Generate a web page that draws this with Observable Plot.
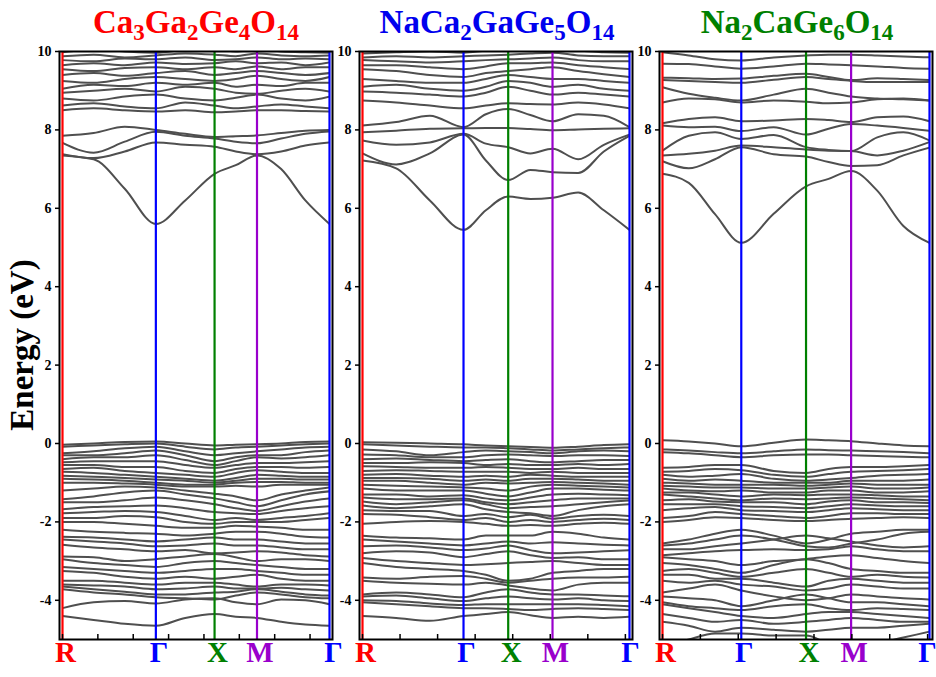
<!DOCTYPE html>
<html><head><meta charset="utf-8">
<script src="https://cdn.jsdelivr.net/npm/d3@7"></script>
<script src="https://cdn.jsdelivr.net/npm/@observablehq/plot@0.6"></script>
<style>
html,body{margin:0;padding:0;background:#fff;}
#wrap{position:relative;width:936px;height:677px;overflow:hidden;font-family:"Liberation Serif","Times New Roman",serif;}
#wrap svg{position:absolute;top:0;}
.title{position:absolute;top:4px;font-weight:bold;font-size:33px;line-height:36px;white-space:nowrap;transform:translateX(-50%);}
.title sub{font-size:23px;vertical-align:-7px;line-height:0;}
.ylab{position:absolute;left:22px;top:345px;font-weight:bold;font-size:33px;white-space:nowrap;transform:translate(-50%,-50%) rotate(-90deg);}
</style></head>
<body><div id="wrap"></div>
<script>
// ---- data ----
const kLabels = ["R", "Γ", "X", "M", "Γ"];
const compounds = [
  ["Ca", "3", "Ga", "2", "Ge", "4", "O", "14"],
  ["NaCa", "2", "GaGe", "5", "O", "14"],
  ["Na", "2", "CaGe", "6", "O", "14"]
];
// high-symmetry k positions (path length units) for each panel
const kPos1 = [0, 0.264, 0.430, 0.550, 0.755];
const kPos2 = [0, 0.269, 0.388, 0.506, 0.711];
const kPos3 = [0, 0.208, 0.379, 0.498, 0.705];
const yTicks = [-4, -2, 0, 2, 4, 6, 8, 10];
const kTickStep = 0.1;

// band energies (eV) sampled at: R, R–Γ 1/3, R–Γ 2/3, Γ, Γ–X mid, X, X–M mid, M, M–Γ 1/3, M–Γ 2/3, Γ
const cond1 = [
  [7.35, 7.25, 6.5, 5.6, 6.2, 6.88, 7.1, 7.35, 7.0, 6.2, 5.6],
  [7.38, 7.28, 7.45, 7.68, 7.62, 7.57, 7.45, 7.38, 7.45, 7.6, 7.68],
  [7.67, 7.42, 7.7, 7.95, 7.85, 7.78, 7.7, 7.66, 7.78, 7.9, 7.96],
  [7.85, 7.92, 8.08, 8.0, 7.9, 7.82, 7.84, 7.86, 7.92, 7.98, 8.0],
  [8.5, 8.55, 8.5, 8.47, 8.5, 8.45, 8.47, 8.5, 8.5, 8.48, 8.47],
  [8.62, 8.68, 8.6, 8.55, 8.7, 8.62, 8.55, 8.6, 8.65, 8.6, 8.55],
  [8.8, 8.75, 8.85, 8.9, 8.8, 8.75, 8.82, 8.9, 8.8, 8.75, 8.85],
  [8.95, 9.0, 9.05, 8.98, 9.1, 9.05, 8.95, 8.92, 9.0, 9.05, 8.98],
  [9.05, 9.15, 9.12, 9.2, 9.15, 9.2, 9.1, 9.15, 9.12, 9.2, 9.2],
  [9.25, 9.2, 9.3, 9.35, 9.3, 9.25, 9.3, 9.38, 9.3, 9.25, 9.35],
  [9.4, 9.45, 9.38, 9.45, 9.5, 9.4, 9.45, 9.5, 9.45, 9.4, 9.45],
  [9.55, 9.5, 9.58, 9.6, 9.55, 9.6, 9.55, 9.62, 9.55, 9.6, 9.6],
  [9.65, 9.7, 9.65, 9.72, 9.68, 9.7, 9.75, 9.7, 9.72, 9.65, 9.72],
  [9.78, 9.75, 9.82, 9.8, 9.85, 9.78, 9.8, 9.85, 9.8, 9.82, 9.8],
  [9.88, 9.92, 9.85, 9.9, 9.95, 9.92, 9.88, 9.95, 9.9, 9.88, 9.9],
  [9.98, 10.05, 10.0, 9.97, 10.05, 10.1, 10.0, 10.05, 10.0, 9.98, 9.97]
];
const val1 = [
  [-0.03, 0.0, 0.04, 0.05, 0.0, -0.05, -0.03, -0.02, 0.0, 0.04, 0.05],
  [-0.08, -0.05, -0.02, 0.0, -0.08, -0.15, -0.1, -0.08, -0.05, -0.02, 0.0],
  [-0.25, -0.2, -0.12, -0.08, -0.2, -0.3, -0.25, -0.2, -0.15, -0.1, -0.08],
  [-0.3, -0.3, -0.25, -0.18, -0.3, -0.45, -0.35, -0.3, -0.3, -0.22, -0.18],
  [-0.4, -0.35, -0.35, -0.3, -0.42, -0.55, -0.45, -0.35, -0.38, -0.35, -0.3],
  [-0.48, -0.45, -0.45, -0.45, -0.55, -0.62, -0.55, -0.5, -0.5, -0.48, -0.45],
  [-0.55, -0.55, -0.6, -0.6, -0.7, -0.75, -0.65, -0.6, -0.6, -0.62, -0.6],
  [-0.65, -0.62, -0.7, -0.75, -0.8, -0.85, -0.75, -0.68, -0.72, -0.75, -0.75],
  [-0.72, -0.75, -0.8, -0.85, -0.9, -0.95, -0.88, -0.8, -0.82, -0.85, -0.85],
  [-0.82, -0.85, -0.88, -0.92, -0.95, -1.0, -0.95, -0.9, -0.9, -0.92, -0.92],
  [-0.9, -0.92, -0.95, -1.0, -1.05, -1.05, -1.0, -0.98, -0.98, -1.0, -1.0],
  [-1.0, -1.0, -1.02, -1.05, -1.1, -1.1, -1.08, -1.1, -1.05, -1.05, -1.05],
  [-1.2, -1.15, -1.1, -1.12, -1.2, -1.28, -1.35, -1.45, -1.3, -1.2, -1.12],
  [-1.42, -1.35, -1.25, -1.2, -1.3, -1.4, -1.5, -1.6, -1.45, -1.3, -1.22],
  [-1.5, -1.5, -1.45, -1.38, -1.45, -1.55, -1.65, -1.72, -1.6, -1.48, -1.4],
  [-1.68, -1.62, -1.6, -1.58, -1.65, -1.75, -1.78, -1.8, -1.72, -1.65, -1.6],
  [-1.78, -1.75, -1.72, -1.75, -1.85, -1.95, -1.9, -1.95, -1.9, -1.85, -1.78],
  [-1.9, -1.9, -1.85, -1.88, -2.0, -2.05, -2.0, -2.0, -2.0, -1.95, -1.9],
  [-2.0, -2.0, -2.05, -2.1, -2.15, -2.15, -2.1, -2.12, -2.15, -2.2, -2.2],
  [-2.2, -2.25, -2.28, -2.3, -2.35, -2.3, -2.25, -2.25, -2.3, -2.38, -2.4],
  [-2.38, -2.4, -2.45, -2.5, -2.45, -2.4, -2.45, -2.45, -2.5, -2.55, -2.55],
  [-2.45, -2.5, -2.55, -2.62, -2.6, -2.55, -2.6, -2.6, -2.65, -2.7, -2.7],
  [-2.58, -2.65, -2.7, -2.75, -2.72, -2.8, -2.78, -2.75, -2.78, -2.85, -2.88],
  [-2.88, -2.9, -3.0, -2.95, -2.88, -2.82, -2.9, -3.0, -2.95, -2.95, -3.0],
  [-2.95, -3.05, -3.1, -3.15, -3.05, -3.0, -3.05, -3.1, -3.15, -3.2, -3.2],
  [-3.15, -3.2, -3.25, -3.3, -3.25, -3.2, -3.2, -3.25, -3.3, -3.35, -3.35],
  [-3.25, -3.3, -3.4, -3.45, -3.4, -3.45, -3.4, -3.35, -3.45, -3.5, -3.5],
  [-3.5, -3.5, -3.55, -3.6, -3.55, -3.55, -3.6, -3.65, -3.6, -3.6, -3.62],
  [-3.6, -3.62, -3.65, -3.72, -3.7, -3.65, -3.7, -3.7, -3.68, -3.72, -3.75],
  [-3.65, -3.72, -3.78, -3.85, -3.85, -3.8, -3.78, -3.72, -3.78, -3.85, -3.88],
  [-3.72, -3.8, -3.85, -3.92, -3.95, -3.98, -3.88, -3.8, -3.85, -3.92, -3.95],
  [-4.2, -4.05, -4.02, -4.08, -3.98, -3.95, -4.05, -4.1, -3.98, -4.0, -4.1],
  [-4.4, -4.5, -4.6, -4.65, -4.45, -4.35, -4.42, -4.45, -4.55, -4.62, -4.65]
];
const cond2 = [
  [7.22, 7.02, 6.2, 5.45, 5.95, 6.3, 6.24, 6.27, 6.4, 5.95, 5.45],
  [7.4, 7.12, 7.4, 7.88, 7.22, 6.72, 6.98, 6.92, 6.9, 7.45, 7.85],
  [7.73, 7.62, 7.68, 7.9, 7.65, 7.56, 7.4, 7.52, 7.25, 7.62, 7.88],
  [7.94, 7.98, 8.03, 8.04, 8.05, 8.05, 8.02, 7.99, 8.01, 8.03, 8.04],
  [8.11, 8.2, 8.36, 8.07, 8.4, 8.53, 8.38, 8.22, 8.4, 8.36, 8.07],
  [8.75, 8.7, 8.62, 8.55, 8.62, 8.68, 8.66, 8.65, 8.7, 8.65, 8.55],
  [8.98, 8.95, 8.9, 8.85, 8.95, 9.1, 9.0, 8.9, 8.95, 8.9, 8.85],
  [9.1, 9.15, 9.05, 9.0, 9.1, 9.25, 9.2, 9.1, 9.15, 9.05, 9.0],
  [9.3, 9.25, 9.2, 9.2, 9.3, 9.4, 9.35, 9.3, 9.3, 9.25, 9.2],
  [9.55, 9.5, 9.4, 9.35, 9.45, 9.5, 9.55, 9.6, 9.5, 9.42, 9.35],
  [9.65, 9.65, 9.6, 9.55, 9.62, 9.7, 9.7, 9.72, 9.65, 9.6, 9.55],
  [9.78, 9.75, 9.72, 9.75, 9.78, 9.8, 9.82, 9.85, 9.78, 9.75, 9.75],
  [9.85, 9.88, 9.85, 9.88, 9.9, 9.92, 9.95, 9.97, 9.9, 9.88, 9.88],
  [9.95, 9.98, 10.0, 9.97, 10.02, 10.05, 10.05, 10.0, 10.02, 9.98, 9.97]
];
const val2 = [
  [0.03, 0.02, 0.0, -0.02, -0.05, -0.07, -0.09, -0.11, -0.08, -0.04, -0.02],
  [-0.02, -0.05, -0.08, -0.1, -0.1, -0.12, -0.15, -0.18, -0.15, -0.12, -0.1],
  [-0.15, -0.2, -0.3, -0.22, -0.18, -0.2, -0.22, -0.25, -0.2, -0.18, -0.2],
  [-0.28, -0.3, -0.35, -0.35, -0.3, -0.28, -0.3, -0.32, -0.3, -0.3, -0.32],
  [-0.4, -0.38, -0.42, -0.45, -0.42, -0.4, -0.45, -0.48, -0.45, -0.42, -0.42],
  [-0.5, -0.5, -0.48, -0.5, -0.55, -0.52, -0.55, -0.55, -0.52, -0.55, -0.52],
  [-0.58, -0.6, -0.62, -0.62, -0.6, -0.62, -0.65, -0.65, -0.62, -0.65, -0.65],
  [-0.7, -0.68, -0.7, -0.72, -0.72, -0.72, -0.75, -0.72, -0.75, -0.75, -0.75],
  [-0.8, -0.78, -0.82, -0.85, -0.82, -0.85, -0.8, -0.82, -0.85, -0.85, -0.85],
  [-0.88, -0.88, -0.9, -0.95, -0.92, -0.95, -0.9, -0.9, -0.92, -0.95, -0.95],
  [-0.95, -0.95, -1.0, -1.05, -1.0, -1.02, -1.0, -0.98, -1.0, -1.02, -1.05],
  [-1.05, -1.08, -1.1, -1.12, -1.15, -1.2, -1.1, -1.05, -1.08, -1.1, -1.12],
  [-1.15, -1.2, -1.2, -1.2, -1.28, -1.35, -1.25, -1.15, -1.15, -1.18, -1.2],
  [-1.3, -1.3, -1.35, -1.32, -1.4, -1.45, -1.38, -1.3, -1.28, -1.3, -1.32],
  [-1.38, -1.42, -1.42, -1.4, -1.5, -1.55, -1.5, -1.45, -1.4, -1.4, -1.4],
  [-1.48, -1.55, -1.5, -1.45, -1.55, -1.65, -1.62, -1.6, -1.55, -1.5, -1.45],
  [-1.58, -1.65, -1.6, -1.55, -1.68, -1.75, -1.78, -1.85, -1.7, -1.6, -1.55],
  [-1.7, -1.72, -1.72, -1.85, -1.8, -1.88, -1.82, -1.92, -1.85, -1.82, -1.85],
  [-1.8, -1.82, -1.88, -1.95, -1.9, -2.0, -1.95, -2.0, -1.95, -1.92, -1.95],
  [-2.05, -2.0, -1.98, -2.0, -2.05, -2.1, -2.08, -2.1, -2.05, -2.02, -2.05],
  [-2.35, -2.4, -2.42, -2.45, -2.35, -2.35, -2.35, -2.25, -2.3, -2.4, -2.45],
  [-2.45, -2.5, -2.55, -2.6, -2.55, -2.5, -2.55, -2.52, -2.55, -2.58, -2.6],
  [-2.62, -2.6, -2.65, -2.72, -2.68, -2.6, -2.72, -2.8, -2.78, -2.75, -2.72],
  [-2.8, -2.75, -2.78, -2.9, -2.82, -2.75, -2.85, -2.92, -2.9, -2.95, -2.95],
  [-2.92, -3.0, -3.05, -3.1, -3.08, -3.05, -3.02, -3.0, -3.05, -3.1, -3.1],
  [-3.05, -3.15, -3.2, -3.25, -3.35, -3.5, -3.45, -3.3, -3.25, -3.2, -3.2],
  [-3.42, -3.45, -3.4, -3.38, -3.45, -3.55, -3.5, -3.45, -3.42, -3.42, -3.4],
  [-3.5, -3.55, -3.58, -3.6, -3.55, -3.62, -3.7, -3.75, -3.6, -3.55, -3.55],
  [-3.85, -3.8, -3.85, -3.92, -3.8, -3.72, -3.8, -3.85, -3.85, -3.88, -3.9],
  [-3.9, -3.88, -3.95, -4.02, -3.95, -3.9, -3.95, -3.98, -3.95, -4.0, -4.02],
  [-4.0, -4.02, -4.08, -4.12, -4.1, -4.1, -4.1, -4.1, -4.1, -4.12, -4.15],
  [-4.05, -4.1, -4.15, -4.2, -4.2, -4.22, -4.25, -4.22, -4.2, -4.22, -4.25],
  [-4.4, -4.45, -4.52, -4.4, -4.35, -4.3, -4.38, -4.45, -4.42, -4.45, -4.42]
];
const cond3 = [
  [6.88, 6.65, 5.85, 5.12, 5.86, 6.56, 6.75, 6.95, 6.45, 5.55, 5.12],
  [7.2, 7.02, 7.25, 7.56, 7.38, 7.32, 7.18, 7.08, 7.1, 7.35, 7.55],
  [7.35, 7.39, 7.47, 7.6, 7.56, 7.5, 7.47, 7.46, 7.35, 7.47, 7.69],
  [7.47, 7.85, 7.94, 7.77, 7.87, 7.56, 7.49, 7.46, 7.81, 7.94, 7.73],
  [8.11, 8.07, 8.08, 7.97, 8.07, 7.88, 8.03, 8.15, 8.11, 8.05, 7.98],
  [8.17, 8.28, 8.32, 8.22, 8.24, 8.28, 8.25, 8.2, 8.32, 8.34, 8.22],
  [8.7, 8.8, 8.78, 8.7, 8.75, 8.72, 8.68, 8.7, 8.78, 8.8, 8.75],
  [9.09, 8.92, 8.82, 8.75, 8.9, 9.05, 8.95, 8.85, 8.8, 8.78, 8.75],
  [9.27, 9.25, 9.22, 9.2, 9.28, 9.35, 9.3, 9.25, 9.22, 9.22, 9.22],
  [9.33, 9.32, 9.3, 9.31, 9.38, 9.43, 9.35, 9.27, 9.32, 9.3, 9.27],
  [9.69, 9.68, 9.62, 9.56, 9.62, 9.69, 9.67, 9.65, 9.62, 9.58, 9.56],
  [9.98, 9.9, 9.8, 9.77, 9.85, 9.9, 9.92, 9.92, 9.9, 9.87, 9.85]
];
const val3 = [
  [0.08, 0.05, 0.0, -0.07, 0.02, 0.1, 0.08, 0.06, 0.0, -0.05, -0.07],
  [-0.15, -0.18, -0.22, -0.25, -0.2, -0.15, -0.17, -0.18, -0.2, -0.22, -0.25],
  [-0.22, -0.25, -0.3, -0.35, -0.3, -0.28, -0.28, -0.3, -0.32, -0.34, -0.35],
  [-0.62, -0.6, -0.55, -0.55, -0.7, -0.75, -0.65, -0.6, -0.6, -0.58, -0.55],
  [-0.72, -0.7, -0.65, -0.68, -0.8, -0.85, -0.78, -0.72, -0.7, -0.68, -0.65],
  [-0.8, -0.85, -0.82, -0.78, -0.9, -0.95, -0.92, -0.88, -0.82, -0.8, -0.78],
  [-0.9, -0.95, -0.92, -0.95, -1.0, -1.0, -1.0, -0.95, -0.95, -0.95, -0.92],
  [-1.0, -1.02, -1.05, -1.05, -1.05, -1.08, -1.05, -1.02, -1.05, -1.05, -1.05],
  [-1.08, -1.1, -1.12, -1.12, -1.15, -1.15, -1.12, -1.1, -1.15, -1.15, -1.12],
  [-1.15, -1.2, -1.22, -1.2, -1.25, -1.25, -1.2, -1.2, -1.25, -1.25, -1.22],
  [-1.25, -1.25, -1.3, -1.35, -1.3, -1.32, -1.3, -1.3, -1.32, -1.35, -1.35],
  [-1.3, -1.35, -1.4, -1.45, -1.4, -1.42, -1.4, -1.38, -1.4, -1.42, -1.45],
  [-1.45, -1.42, -1.48, -1.5, -1.5, -1.55, -1.48, -1.45, -1.5, -1.5, -1.52],
  [-1.55, -1.55, -1.55, -1.6, -1.62, -1.65, -1.6, -1.55, -1.58, -1.6, -1.6],
  [-1.7, -1.65, -1.62, -1.7, -1.72, -1.75, -1.7, -1.65, -1.68, -1.7, -1.7],
  [-1.9, -1.85, -1.75, -1.8, -1.85, -1.9, -1.85, -1.78, -1.78, -1.8, -1.8],
  [-2.0, -1.95, -1.88, -1.9, -1.95, -1.98, -1.95, -1.92, -1.9, -1.88, -1.9],
  [-2.55, -2.45, -2.3, -2.2, -2.35, -2.55, -2.45, -2.3, -2.25, -2.2, -2.2],
  [-2.6, -2.55, -2.45, -2.35, -2.45, -2.62, -2.65, -2.55, -2.45, -2.3, -2.25],
  [-2.7, -2.7, -2.62, -2.55, -2.45, -2.35, -2.42, -2.5, -2.6, -2.65, -2.62],
  [-2.85, -2.8, -2.75, -2.72, -2.7, -2.72, -2.7, -2.62, -2.7, -2.75, -2.75],
  [-2.9, -2.95, -3.0, -3.1, -3.0, -2.95, -2.88, -2.85, -2.92, -3.0, -3.05],
  [-3.05, -3.1, -3.2, -3.3, -3.1, -2.95, -3.05, -3.2, -3.25, -3.3, -3.3],
  [-3.25, -3.2, -3.3, -3.4, -3.3, -3.2, -3.3, -3.4, -3.35, -3.4, -3.42],
  [-3.35, -3.35, -3.45, -3.45, -3.55, -3.65, -3.5, -3.45, -3.5, -3.55, -3.55],
  [-3.5, -3.55, -3.5, -3.6, -3.65, -3.75, -3.7, -3.6, -3.65, -3.7, -3.7],
  [-3.8, -3.7, -3.6, -3.75, -3.9, -4.0, -3.95, -3.85, -3.9, -3.95, -3.98],
  [-3.9, -3.95, -4.0, -4.15, -4.0, -3.85, -3.95, -4.05, -4.05, -4.1, -4.15],
  [-4.05, -4.15, -4.2, -4.25, -4.15, -4.1, -4.2, -4.25, -4.2, -4.22, -4.25],
  [-4.1, -4.2, -4.3, -4.4, -4.45, -4.35, -4.3, -4.3, -4.35, -4.4, -4.45],
  [-4.35, -4.45, -4.55, -4.5, -4.6, -4.55, -4.5, -4.45, -4.5, -4.55, -4.55],
  [-4.55, -4.65, -4.8, -4.7, -4.75, -4.8, -4.75, -4.7, -4.7, -4.65, -4.6],
  [-5.2, -5.0, -4.85, -4.85, -4.9, -4.9, -5.1, -5.2, -5.1, -4.95, -4.8]
];

// ---- styles ----
const kColors = ["#ff0000", "#0000ff", "#008000", "#9900cc", "#0000ff"];
const titleColors = ["#ff0000", "#0000ee", "#008000"];
const bandColor = "#4f4f4f";
const FONT = "Liberation Serif, Times New Roman, serif";

function samplePositions(k) {
  const [r, g, x, m, g2] = k;
  return [r, r + (g - r) / 3, r + 2 * (g - r) / 3, g, (g + x) / 2, x, (x + m) / 2, m, m + (g2 - m) / 3, m + 2 * (g2 - m) / 3, g2];
}

function panel(bands, kPos, lastDx) {
  const xs = samplePositions(kPos);
  const rows = [];
  bands.forEach((b, i) => b.forEach((e, j) => rows.push({band: i, k: xs[j], e})));
  const L = kPos[kPos.length - 1];
  const minor = d3.range(0, L + 1e-9, kTickStep);
  const H = 677, mt = 51, mb = 38;
  const labelIdx = kLabels.map((d, i) => i);
  const labelOpts = (dx) => ({x: i => kPos[i], text: i => kLabels[i], frameAnchor: "bottom", dy: 22, dx,
    fill: i => kColors[i], fontSize: 29, fontWeight: "bold", fontFamily: FONT});
  return Plot.plot({
    width: 331, height: H,
    marginTop: mt, marginBottom: mb, marginLeft: 62, marginRight: 2,
    x: {domain: [0, L], axis: null},
    y: {domain: [-5, 10], axis: null},
    color: {type: "identity"},
    style: {background: "transparent", overflow: "visible", fontFamily: FONT},
    marks: [
      Plot.line(rows, {x: "k", y: "e", z: "band", stroke: bandColor, strokeWidth: 2, curve: "monotone-x", clip: true}),
      Plot.ruleX(kPos, {x: d => d, stroke: (d, i) => kColors[i], strokeWidth: 2.2}),
      Plot.ruleX(minor, {x: d => d, stroke: "black", strokeWidth: 1.5, insetTop: H - mt - mb - 5}),
      Plot.frame({stroke: "black", strokeWidth: 2, insetLeft: -3, insetRight: -3}),
      Plot.axisY({ticks: yTicks, tickSize: 4, tickPadding: 4, dx: -3, tickFormat: d => String(d), label: null,
        fontSize: 14, fontWeight: "bold", fontFamily: FONT, fill: "black", strokeWidth: 1.5}),
      Plot.text(labelIdx.slice(0, 4), labelOpts(3)),
      Plot.text(labelIdx.slice(4), labelOpts(lastDx))
    ]
  });
}

const wrap = document.getElementById("wrap");
const sets = [[cond1.concat(val1), kPos1, 4], [cond2.concat(val2), kPos2, 1], [cond3.concat(val3), kPos3, -2]];
const lefts = [0, 300, 600];
const titleCenters = [196, 497, 797];
sets.forEach(([bands, k, lastDx], i) => {
  const svg = panel(bands, k, lastDx);
  svg.style.left = lefts[i] + "px";
  wrap.appendChild(svg);
  const t = document.createElement("div");
  t.className = "title";
  t.style.left = titleCenters[i] + "px";
  t.style.color = titleColors[i];
  t.innerHTML = compounds[i].map((s, j) => j % 2 ? `<sub>${s}</sub>` : s).join("");
  wrap.appendChild(t);
});
const yl = document.createElement("div");
yl.className = "ylab";
yl.textContent = "Energy (eV)";
wrap.appendChild(yl);
</script>
</body></html>
